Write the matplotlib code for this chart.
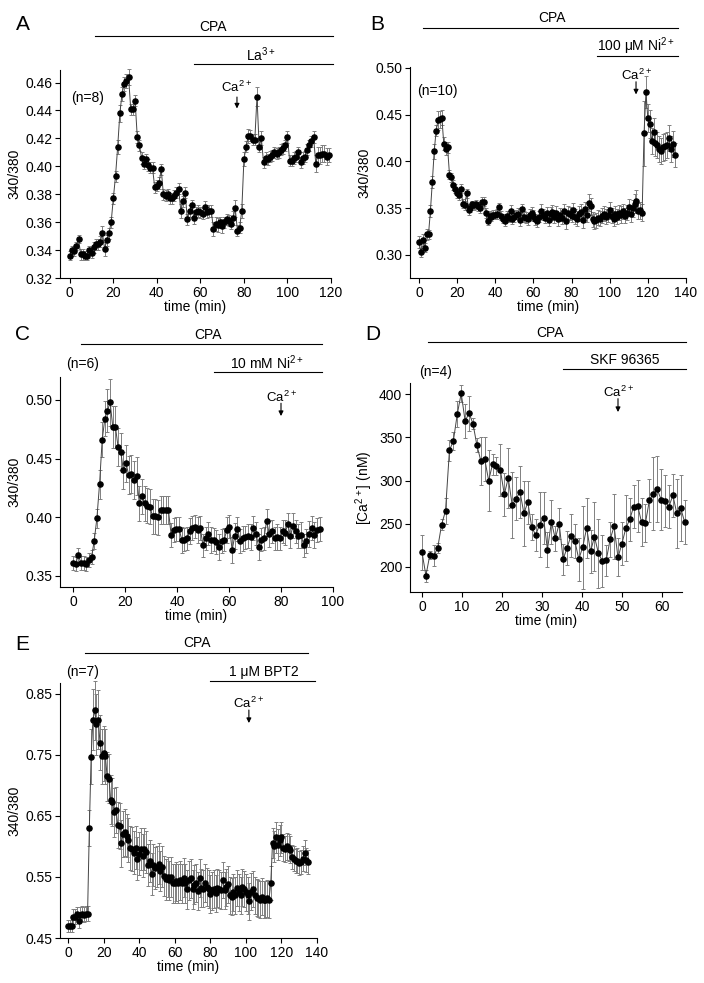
import numpy as np
import matplotlib
matplotlib.use('Agg')
import matplotlib.pyplot as plt
from matplotlib.transforms import blended_transform_factory

plt.rcParams['font.family'] = ['Liberation Sans', 'DejaVu Sans']
plt.rcParams['mathtext.default'] = 'regular'
plt.rcParams['font.size'] = 10

#--------------------------------------------------------------------------------
# Datos (un punto por minuto aprox.)
a_dt = 1.0
a_val = [0.336,0.340,0.339,0.343,0.348,0.337,0.337,0.336,0.336,0.340,
         0.338,0.342,0.344,0.344,0.346,0.352,0.341,0.347,0.352,0.360,
         0.377,0.393,0.414,0.438,0.452,0.459,0.461,0.464,0.441,0.441,
         0.447,0.421,0.415,0.406,0.402,0.405,0.401,0.399,0.399,0.385,
         0.386,0.388,0.398,0.380,0.379,0.380,0.377,0.377,0.379,0.381,
         0.384,0.368,0.375,0.381,0.362,0.368,0.372,0.363,0.367,0.368,
         0.367,0.366,0.371,0.367,0.368,0.368,0.355,0.359,0.358,0.360,
         0.357,0.360,0.362,0.361,0.359,0.363,0.370,0.354,0.356,0.368,
         0.405,0.414,0.422,0.422,0.419,0.419,0.450,0.414,0.420,0.403,
         0.406,0.405,0.407,0.408,0.410,0.409,0.410,0.412,0.413,0.415,
         0.421,0.404,0.404,0.406,0.407,0.410,0.403,0.406,0.407,0.412,
         0.415,0.418,0.421,0.402,0.408,0.408,0.409,0.409,0.407,0.408]
a_err = [0.003,0.003,0.003,0.003,0.003,0.004,0.004,0.003,0.003,0.003,
         0.004,0.004,0.004,0.004,0.004,0.005,0.005,0.004,0.004,0.004,
         0.004,0.004,0.005,0.006,0.005,0.005,0.005,0.006,0.004,0.004,
         0.004,0.004,0.004,0.004,0.004,0.004,0.004,0.004,0.004,0.004,
         0.004,0.004,0.004,0.004,0.004,0.004,0.004,0.004,0.004,0.004,
         0.004,0.005,0.004,0.004,0.004,0.004,0.004,0.004,0.004,0.004,
         0.004,0.004,0.004,0.004,0.004,0.004,0.005,0.005,0.005,0.004,
         0.005,0.004,0.004,0.004,0.004,0.005,0.006,0.004,0.004,0.005,
         0.005,0.004,0.005,0.004,0.004,0.004,0.007,0.004,0.005,0.004,
         0.004,0.004,0.004,0.004,0.004,0.004,0.004,0.004,0.004,0.004,
         0.004,0.004,0.004,0.004,0.004,0.004,0.004,0.004,0.004,0.004,
         0.004,0.004,0.004,0.006,0.006,0.006,0.006,0.006,0.006,0.005]

b_dt = 1.0
b_val = [0.314,0.303,0.316,0.308,0.322,0.322,0.347,0.378,0.411,0.433,
         0.444,0.445,0.447,0.419,0.413,0.415,0.386,0.383,0.375,0.371,
         0.366,0.364,0.371,0.355,0.353,0.366,0.348,0.350,0.354,0.353,
         0.354,0.352,0.350,0.357,0.357,0.345,0.336,0.342,0.341,0.343,
         0.343,0.344,0.351,0.342,0.339,0.336,0.342,0.340,0.347,0.339,
         0.341,0.343,0.344,0.337,0.349,0.341,0.340,0.338,0.343,0.345,
         0.342,0.338,0.336,0.341,0.347,0.343,0.340,0.345,0.337,0.344,
         0.346,0.341,0.345,0.338,0.343,0.340,0.347,0.336,0.345,0.344,
         0.342,0.348,0.341,0.339,0.344,0.346,0.337,0.349,0.343,0.356,
         0.352,0.338,0.336,0.337,0.340,0.339,0.342,0.344,0.341,0.343,
         0.348,0.342,0.339,0.344,0.341,0.345,0.343,0.347,0.342,0.345,
         0.351,0.344,0.350,0.355,0.358,0.347,0.348,0.345,0.430,0.474,
         0.446,0.440,0.422,0.432,0.420,0.418,0.413,0.411,0.415,0.416,
         0.418,0.425,0.413,0.419,0.407]
b_err = [0.006,0.005,0.006,0.005,0.006,0.005,0.006,0.006,0.008,0.006,
         0.010,0.009,0.008,0.007,0.006,0.006,0.005,0.005,0.005,0.005,
         0.005,0.005,0.005,0.005,0.005,0.005,0.005,0.004,0.004,0.005,
         0.005,0.005,0.005,0.005,0.005,0.005,0.004,0.005,0.005,0.005,
         0.005,0.005,0.005,0.005,0.005,0.005,0.005,0.005,0.006,0.006,
         0.006,0.005,0.006,0.006,0.006,0.006,0.006,0.006,0.006,0.006,
         0.006,0.006,0.006,0.006,0.007,0.006,0.006,0.006,0.006,0.007,
         0.007,0.007,0.007,0.007,0.007,0.007,0.007,0.008,0.007,0.007,
         0.007,0.008,0.008,0.008,0.008,0.008,0.008,0.008,0.008,0.009,
         0.009,0.008,0.008,0.008,0.008,0.008,0.008,0.008,0.008,0.008,
         0.009,0.008,0.008,0.008,0.008,0.008,0.009,0.008,0.008,0.008,
         0.009,0.009,0.009,0.010,0.011,0.009,0.009,0.009,0.035,0.017,
         0.015,0.015,0.014,0.014,0.014,0.014,0.014,0.014,0.014,0.014,
         0.014,0.014,0.014,0.014,0.013]

c_dt = 1.02
c_val = [0.361,0.360,0.368,0.361,0.361,0.360,0.364,0.366,0.380,0.399,
         0.428,0.466,0.484,0.491,0.498,0.477,0.477,0.460,0.456,0.440,
         0.446,0.436,0.437,0.432,0.435,0.412,0.418,0.412,0.410,0.409,
         0.401,0.401,0.400,0.406,0.406,0.406,0.406,0.385,0.389,0.390,
         0.390,0.381,0.381,0.382,0.388,0.391,0.392,0.389,0.391,0.376,
         0.382,0.386,0.381,0.381,0.379,0.375,0.380,0.381,0.389,0.392,
         0.372,0.384,0.390,0.380,0.382,0.383,0.384,0.383,0.391,0.386,
         0.375,0.381,0.382,0.397,0.386,0.388,0.382,0.383,0.382,0.388,
         0.387,0.394,0.384,0.393,0.388,0.384,0.385,0.376,0.380,0.386,
         0.391,0.385,0.389,0.390]
c_err = [0.006,0.006,0.006,0.006,0.006,0.006,0.006,0.006,0.007,0.008,
         0.012,0.015,0.015,0.018,0.020,0.018,0.018,0.016,0.016,0.016,
         0.016,0.016,0.016,0.016,0.016,0.015,0.015,0.015,0.015,0.015,
         0.015,0.015,0.015,0.012,0.012,0.012,0.012,0.010,0.010,0.010,
         0.010,0.011,0.010,0.010,0.011,0.010,0.010,0.011,0.010,0.010,
         0.010,0.010,0.011,0.010,0.010,0.011,0.010,0.010,0.011,0.010,
         0.011,0.011,0.010,0.010,0.011,0.010,0.010,0.011,0.010,0.010,
         0.011,0.010,0.010,0.010,0.011,0.010,0.010,0.011,0.010,0.010,
         0.011,0.010,0.010,0.011,0.010,0.010,0.011,0.010,0.010,0.011,
         0.010,0.011,0.010,0.010]

d_dt = 0.98
d_val = [217,190,214,213,222,249,265,335,346,377,
         401,369,378,366,341,323,325,300,319,317,
         312,284,303,272,279,287,262,275,246,237,
         249,257,220,252,233,250,209,222,236,230,
         209,223,245,218,235,216,207,208,232,247,
         211,227,245,255,270,271,252,251,277,285,
         290,278,276,270,283,262,268,252]
d_err = [20,7,5,12,6,6,15,12,10,15,
         10,20,20,6,8,28,25,35,12,10,
         30,25,35,38,25,30,38,25,15,18,
         38,30,20,25,15,18,18,20,25,20,
         25,48,35,25,40,40,30,18,20,38,
         22,25,38,25,25,30,28,22,25,42,
         38,35,30,25,25,40,38,25]

e_dt = 1.0
e_val = [0.470,0.470,0.470,0.485,0.485,0.490,0.478,0.488,0.490,0.488,
         0.490,0.490,0.630,0.747,0.808,0.823,0.800,0.808,0.770,0.748,
         0.753,0.748,0.715,0.711,0.677,0.673,0.656,0.660,0.635,0.634,
         0.605,0.620,0.623,0.618,0.610,0.598,0.596,0.590,0.598,0.580,
         0.588,0.596,0.585,0.596,0.591,0.570,0.576,0.555,0.570,0.565,
         0.567,0.572,0.560,0.567,0.552,0.546,0.550,0.545,0.550,0.540,
         0.540,0.543,0.540,0.545,0.540,0.549,0.540,0.530,0.545,0.548,
         0.530,0.537,0.540,0.527,0.548,0.532,0.531,0.540,0.533,0.530,
         0.522,0.527,0.530,0.523,0.532,0.530,0.528,0.545,0.528,0.533,
         0.538,0.520,0.518,0.525,0.520,0.532,0.525,0.520,0.533,0.530,
         0.525,0.520,0.510,0.526,0.530,0.520,0.516,0.515,0.513,0.518,
         0.513,0.513,0.515,0.513,0.540,0.606,0.600,0.615,0.603,0.610,
         0.615,0.598,0.596,0.600,0.598,0.595,0.583,0.580,0.576,0.577,
         0.573,0.575,0.580,0.590,0.578,0.575]
e_err = [0.010,0.010,0.010,0.012,0.012,0.010,0.012,0.012,0.012,0.012,
         0.012,0.012,0.030,0.045,0.050,0.048,0.050,0.048,0.045,0.045,
         0.045,0.045,0.040,0.040,0.040,0.040,0.040,0.038,0.038,0.038,
         0.038,0.038,0.038,0.036,0.036,0.036,0.036,0.035,0.035,0.035,
         0.035,0.035,0.035,0.035,0.035,0.034,0.034,0.034,0.034,0.034,
         0.033,0.033,0.033,0.033,0.033,0.033,0.033,0.032,0.032,0.032,
         0.032,0.032,0.032,0.032,0.032,0.032,0.032,0.032,0.032,0.032,
         0.032,0.032,0.031,0.031,0.031,0.031,0.031,0.031,0.031,0.031,
         0.031,0.031,0.031,0.031,0.031,0.031,0.031,0.030,0.030,0.030,
         0.030,0.030,0.030,0.030,0.030,0.030,0.030,0.030,0.030,0.030,
         0.030,0.030,0.030,0.030,0.030,0.030,0.030,0.030,0.030,0.030,
         0.030,0.030,0.030,0.030,0.028,0.025,0.025,0.025,0.025,0.025,
         0.025,0.022,0.022,0.022,0.022,0.022,0.020,0.020,0.020,0.020,
         0.020,0.020,0.020,0.020,0.020,0.020]

#--------------------------------------------------------------------------------
W, H = 704, 983
fig = plt.figure(figsize=(W/100, H/100), dpi=100)

def caja(l, t, r, b):
    return [l/W, 1-b/H, (r-l)/W, (b-t)/H]

def Panel(box, dt, val, err, xlim, ylim, xt, yt, yfmt, ylabel):
    ax = fig.add_axes(caja(*box))
    t = np.arange(len(val))*dt
    lineas = ax.errorbar(t, val, yerr=err, fmt='-', color='#444444', lw=0.7,
                         ecolor='#808080', elinewidth=0.7, capsize=1.6, capthick=0.7,
                         marker='o', mfc='black', mec='black', ms=3.7)
    for a in lineas.get_children():
        a.set_clip_on(False)
    ax.set_xlim(*xlim)
    ax.set_ylim(*ylim)
    ax.set_xticks(xt)
    ax.set_yticks(yt)
    ax.set_yticklabels([yfmt % v for v in yt])
    for s in ['top', 'right']:
        ax.spines[s].set_visible(False)
    for s in ['left', 'bottom']:
        ax.spines[s].set_linewidth(0.8)
    ax.tick_params(direction='out', length=3.5, width=0.8, labelsize=10, pad=2)
    ax.set_xlabel('time (min)', fontsize=10, labelpad=0)
    ax.set_ylabel(ylabel, fontsize=10, labelpad=3)
    return ax

def Barra(ax, x0, x1, y, texto, xt, yt):
    tr = blended_transform_factory(ax.transData, ax.transAxes)
    ax.plot([x0, x1], [y, y], color='black', lw=0.8, transform=tr, clip_on=False)
    ax.text(xt, yt, texto, transform=tr, ha='center', va='center', fontsize=10)

def Flecha(ax, x, ytxt, y0, y1):
    tr = blended_transform_factory(ax.transData, ax.transAxes)
    ax.text(x, ytxt, 'Ca$^{2+}$', transform=tr, ha='center', va='center', fontsize=9.5)
    ax.annotate('', xy=(x, y1), xytext=(x, y0), xycoords=tr, textcoords=tr,
                arrowprops=dict(arrowstyle='-|>', color='black', lw=0.8,
                                mutation_scale=7, shrinkA=0, shrinkB=0))

def Nota(ax, x, y, texto):
    tr = blended_transform_factory(ax.transData, ax.transAxes)
    ax.text(x, y, texto, transform=tr, ha='center', va='center', fontsize=10)

# A
ax = Panel((60, 70, 331, 278), a_dt, a_val, a_err, (-4.5, 120), (0.32, 0.469),
           range(0, 121, 20), np.arange(0.32, 0.461, 0.02), '%.2f', '340/380')
Barra(ax, 11.5, 121, 1.163, 'CPA', 66, 1.207)
Barra(ax, 57, 121, 1.029, 'La$^{3+}$', 88, 1.075)
Nota(ax, 8, 0.865, '(n=8)')
Flecha(ax, 76.8, 0.915, 0.87, 0.815)
fig.text(23/W, 1-25/H, 'A', fontsize=15, ha='center', va='center')

# B
ax = Panel((410, 67, 686, 278), b_dt, b_val, b_err, (-4.7, 140), (0.2754, 0.501),
           range(0, 141, 20), np.arange(0.30, 0.501, 0.05), '%.2f', '340/380')
Barra(ax, 2.1, 135.8, 1.185, 'CPA', 70, 1.232)
Barra(ax, 93.3, 135.8, 1.052, '100 \u03bcM Ni$^{2+}$', 114, 1.097)
Nota(ax, 9.4, 0.886, '(n=10)')
Flecha(ax, 113.8, 0.962, 0.93, 0.87)
fig.text(377/W, 1-25/H, 'B', fontsize=15, ha='center', va='center')

# C
ax = Panel((60, 377, 333, 587), c_dt, c_val, c_err, (-5, 100), (0.3406, 0.5196),
           range(0, 101, 20), np.arange(0.35, 0.501, 0.05), '%.2f', '340/380')
Barra(ax, 3.1, 95.8, 1.157, 'CPA', 52, 1.2)
Barra(ax, 54.2, 95.8, 1.024, '10 mM Ni$^{2+}$', 74.6, 1.067)
Nota(ax, 3.8, 1.062, '(n=6)')
Flecha(ax, 80, 0.905, 0.875, 0.814)
fig.text(23/W, 1-335/H, 'C', fontsize=15, ha='center', va='center')

# D
ax = Panel((410, 383, 682, 592), d_dt, d_val, d_err, (-3, 65), (171, 413),
           range(0, 61, 10), np.arange(200, 401, 50), '%d', '[Ca$^{2+}$] (nM)')
Barra(ax, 1.5, 66, 1.196, 'CPA', 32, 1.24)
Barra(ax, 35.3, 66, 1.067, 'SKF 96365', 50.7, 1.11)
Nota(ax, 3.3, 1.053, '(n=4)')
Flecha(ax, 49, 0.957, 0.925, 0.861)
fig.text(373/W, 1-335/H, 'D', fontsize=15, ha='center', va='center')

# E
ax = Panel((60, 683, 317, 938), e_dt, e_val, e_err, (-4.5, 140), (0.45, 0.868),
           range(0, 141, 20), np.arange(0.45, 0.851, 0.10), '%.2f', '340/380')
Barra(ax, 9.6, 135, 1.118, 'CPA', 72.5, 1.157)
Barra(ax, 79.8, 138.8, 1.008, '1 \u03bcM BPT2', 110, 1.043)
Nota(ax, 8.4, 1.043, '(n=7)')
Flecha(ax, 101.7, 0.92, 0.894, 0.843)
fig.text(22/W, 1-645/H, 'E', fontsize=15, ha='center', va='center')

plt.savefig('out.png', dpi=100)
